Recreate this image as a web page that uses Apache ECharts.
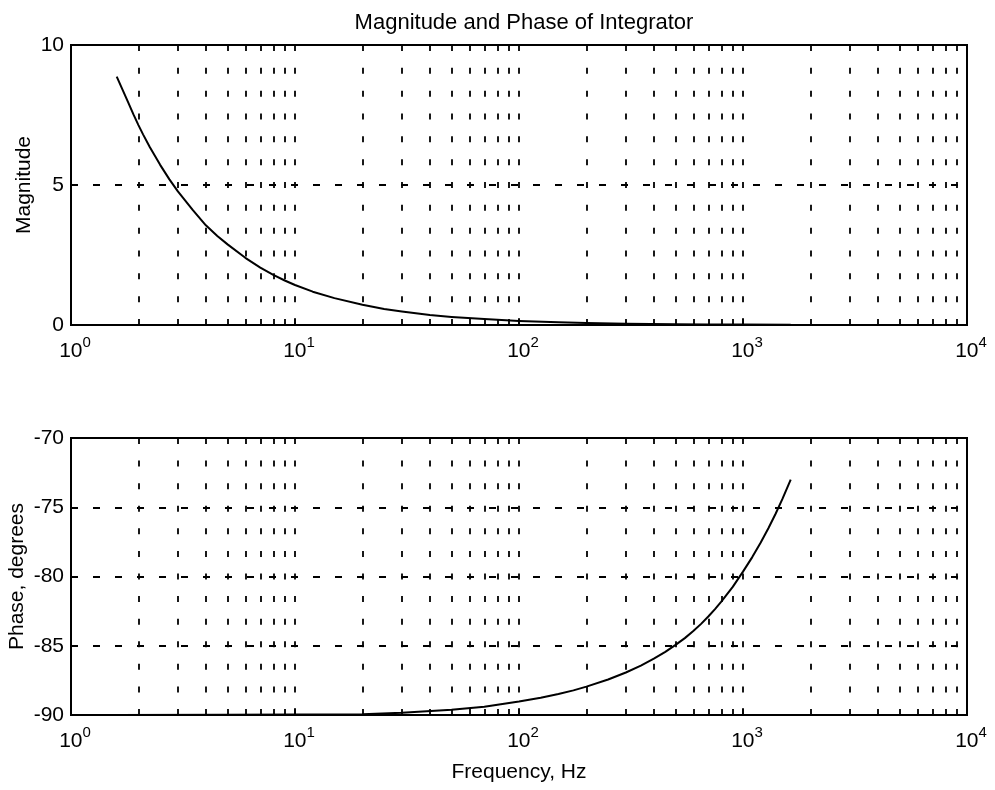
<!DOCTYPE html>
<html>
<head>
<meta charset="utf-8">
<script src="https://cdn.jsdelivr.net/npm/echarts@6/dist/echarts.min.js"></script>
<style>
  html, body { margin: 0; padding: 0; background: #fff; }
  #chart { width: 995px; height: 790px; }
</style>
</head>
<body>
<div id="chart"></div>
<script>
// Magnitude response: frequency (Hz) and |H|
const magFreqHz = [1.6, 1.7, 1.8, 1.9, 2, 2.1, 2.25, 2.5, 2.75, 3, 3.5, 4, 4.5, 5, 6, 7, 8, 9,
                   10, 12, 15, 20, 25, 30, 40, 50, 70, 100, 150, 200, 300, 500, 700, 1000, 1633];
const magnitude = [8.87, 8.4, 7.95, 7.52, 7.14, 6.8, 6.35, 5.72, 5.2, 4.77, 4.1, 3.56, 3.18,
                   2.88, 2.4, 2.05, 1.79, 1.59, 1.43, 1.19, 0.96, 0.72, 0.57, 0.48, 0.36,
                   0.29, 0.21, 0.145, 0.1, 0.072, 0.048, 0.029, 0.021, 0.015, 0.009];

// Phase response: frequency (Hz) and phase in degrees
const phaseFreqHz = [1.6, 5, 10, 20, 30, 50, 70, 100, 125, 150, 175, 200, 250, 300, 350, 400,
                     450, 500, 550, 600, 650, 700, 750, 800, 900, 1000, 1100, 1200, 1300,
                     1400, 1500, 1633];
const phaseDeg = [-90.0, -89.99, -89.97, -89.94, -89.84, -89.62, -89.4, -89.03, -88.76,
                  -88.49, -88.22, -87.95, -87.44, -86.93, -86.43, -85.93, -85.44, -84.94,
                  -84.45, -83.94, -83.42, -82.89, -82.35, -81.82, -80.75, -79.65, -78.6,
                  -77.55, -76.5, -75.45, -74.4, -73.0];

// Axis ranges and ticks
const freqRange = [1, 10000];
const magTicks = [0, 5, 10];
const phaseTicks = [-90, -85, -80, -75, -70];

// Log grid: decade lines plus 2..9 within every decade
const decades = [1, 10, 100, 1000];
const subMultipliers = [2, 3, 4, 5, 6, 7, 8, 9];

const titleText = 'Magnitude and Phase of Integrator';
const xName = 'Frequency, Hz';
const magName = 'Magnitude';
const phaseName = 'Phase, degrees';

const FONT = "'Liberation Sans', Arial, Helvetica, sans-serif";
const INK = '#000';

const gridFreqs = [];
decades.forEach(function (d, i) {
  if (i > 0) gridFreqs.push(d);
  subMultipliers.forEach(function (m) { gridFreqs.push(d * m); });
});

const chart = echarts.init(document.getElementById('chart'), null, { renderer: 'canvas' });

function pairs(xs, ys) {
  return xs.map(function (f, i) { return [f, ys[i]]; });
}

function xAxisFor(gridIndex, withName) {
  return {
    type: 'log',
    logBase: 10,
    gridIndex: gridIndex,
    min: freqRange[0],
    max: freqRange[1],
    name: withName ? xName : '',
    nameLocation: 'middle',
    nameGap: 47,
    nameMoveOverlap: false,
    nameTextStyle: { color: INK, fontFamily: FONT, fontSize: 21 },
    axisLine: { show: true, lineStyle: { color: INK, width: 2 } },
    axisTick: { show: true, inside: true, length: 7, lineStyle: { color: INK, width: 1.5 } },
    splitLine: { show: false },
    axisLabel: {
      margin: 10,
      formatter: function (v) {
        const e = Math.round(Math.log10(v));
        return '{b|10}{s|' + e + '}';
      },
      rich: {
        b: { fontFamily: FONT, fontSize: 21, color: INK, padding: [0, 0, 0, 8], verticalAlign: 'bottom' },
        s: { fontFamily: FONT, fontSize: 15, color: INK, padding: [0, 0, 12, 0], verticalAlign: 'bottom' }
      }
    }
  };
}

function yAxisFor(gridIndex, ticks, name, gap) {
  return {
    type: 'value',
    gridIndex: gridIndex,
    min: ticks[0],
    max: ticks[ticks.length - 1],
    interval: ticks[1] - ticks[0],
    name: name,
    nameLocation: 'middle',
    nameGap: gap,
    nameMoveOverlap: false,
    nameTextStyle: { color: INK, fontFamily: FONT, fontSize: 21 },
    axisLine: { show: true, lineStyle: { color: INK, width: 2 } },
    axisTick: { show: true, inside: true, length: 7, lineStyle: { color: INK, width: 1.5 } },
    axisLabel: { color: INK, fontFamily: FONT, fontSize: 21, margin: 7 },
    splitLine: { show: true, lineStyle: { color: INK, width: 1.8, type: [7, 15] } }
  };
}

function gridLines(xIdx, yIdx, dash) {
  return {
    type: 'line',
    xAxisIndex: xIdx,
    yAxisIndex: yIdx,
    data: [],
    silent: true,
    markLine: {
      silent: true,
      symbol: ['none', 'none'],
      label: { show: false },
      emphasis: { disabled: true },
      lineStyle: { color: INK, width: 1.8, type: dash },
      data: gridFreqs.map(function (f) { return { xAxis: f }; })
    }
  };
}

function curve(xIdx, yIdx, xs, ys) {
  return {
    type: 'line',
    xAxisIndex: xIdx,
    yAxisIndex: yIdx,
    data: pairs(xs, ys),
    showSymbol: false,
    smooth: false,
    clip: true,
    lineStyle: { color: INK, width: 2, join: 'round' },
    emphasis: { disabled: true },
    z: 5
  };
}

const gridBase = {
  left: 71, width: 896, show: true, borderColor: INK, borderWidth: 2,
  backgroundColor: 'transparent', containLabel: false, outerBoundsMode: 'none'
};

chart.setOption({
  animation: false,
  backgroundColor: '#fff',
  title: {
    text: titleText,
    left: 519,
    textAlign: 'center',
    top: 7,
    textStyle: { color: INK, fontFamily: FONT, fontSize: 22, fontWeight: 'normal' }
  },
  grid: [
    Object.assign({}, gridBase, { top: 45, height: 280 }),
    Object.assign({}, gridBase, { top: 438, height: 277 })
  ],
  xAxis: [xAxisFor(0, false), xAxisFor(1, true)],
  yAxis: [
    yAxisFor(0, magTicks, magName, 36),
    yAxisFor(1, phaseTicks, phaseName, 43)
  ],
  series: [
    gridLines(0, 0, [6, 16.83]),
    gridLines(1, 1, [6, 16.58]),
    curve(0, 0, magFreqHz, magnitude),
    curve(1, 1, phaseFreqHz, phaseDeg)
  ]
});
</script>
</body>
</html>
